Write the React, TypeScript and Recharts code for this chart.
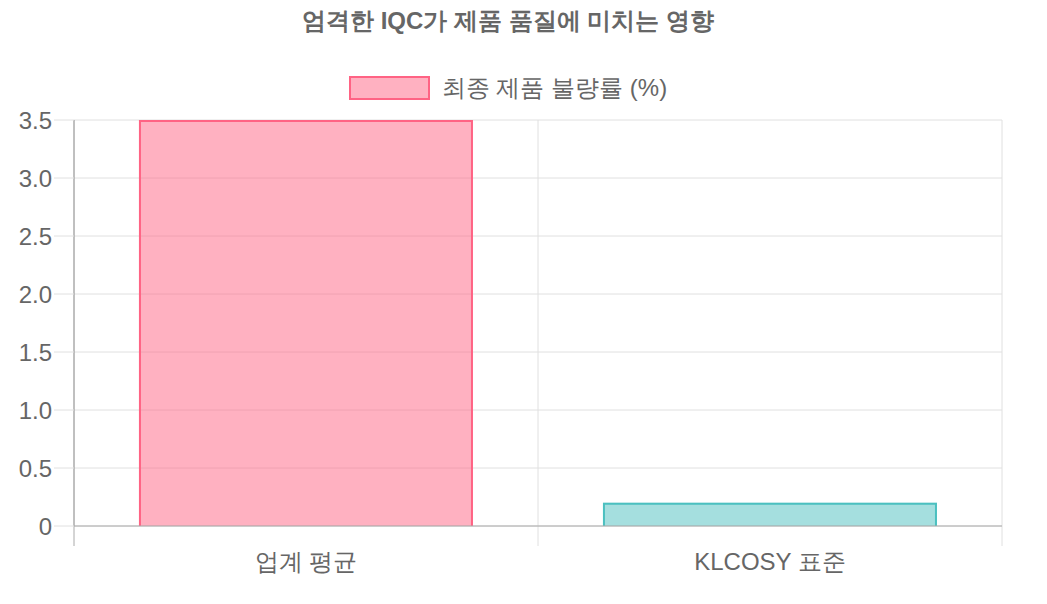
import React from 'react';
import * as Recharts from 'recharts';
import { BarChart, Bar, XAxis, YAxis, CartesianGrid, Cell } from 'recharts';

const title = '엄격한 IQC가 제품 품질에 미치는 영향';
const seriesName = '최종 제품 불량률 (%)';
const categories = ['업계 평균', 'KLCOSY 표준'];
const defectRates = [3.5, 0.2];
const yTicks = [0, 0.5, 1, 1.5, 2, 2.5, 3, 3.5];
const fills = ['rgba(255, 99, 132, 0.5)', 'rgba(75, 192, 192, 0.5)'];
const strokes = ['rgb(255, 99, 132)', 'rgb(75, 192, 192)'];

const data = categories.map((name, i) => ({ name, value: defectRates[i] }));

const W = 1047;
const H = 604;
const MARGIN = { top: 120, right: 45, bottom: 28, left: 0 };
const Y_AXIS_W = 74;
const X_AXIS_H = 50;
const FONT = '"Helvetica Neue", Helvetica, Arial, sans-serif';
const TEXT = '#666';
const GRID = '#e0e0e0';
const AXIS = '#aaaaaa';
const FS = 24;

const RC: any = Recharts;

function usePlot() {
  const fallback = {
    x: MARGIN.left + Y_AXIS_W,
    y: MARGIN.top,
    width: W - MARGIN.left - Y_AXIS_W - MARGIN.right,
    height: H - MARGIN.top - MARGIN.bottom - X_AXIS_H,
  };
  const p = RC.usePlotArea ? RC.usePlotArea() : null;
  return p && p.width ? p : fallback;
}

function BoundaryTicks() {
  const p = usePlot();
  const n = categories.length;
  const xs = Array.from({ length: n + 1 }, (_, i) => p.x + (p.width * i) / n);
  return (
    <g>
      {xs.map((x, i) => (
        <line
          key={i}
          x1={x}
          x2={x}
          y1={p.y}
          y2={p.y + p.height + 20}
          stroke={i === 0 ? AXIS : GRID}
          strokeWidth={1}
        />
      ))}
    </g>
  );
}

function BarShape(props: any) {
  const { x, y, width, height, index } = props;
  const bw = 2;
  const left = x + bw / 2;
  const right = x + width - bw / 2;
  const top = y + bw / 2;
  const bottom = y + height;
  return (
    <g>
      <rect x={x} y={y} width={width} height={height} fill={fills[index]} />
      <path
        d={`M${left},${bottom} L${left},${top} L${right},${top} L${right},${bottom}`}
        fill="none"
        stroke={strokes[index]}
        strokeWidth={bw}
      />
    </g>
  );
}

const fmt = (v: number) => (v === 0 ? '0' : v.toFixed(1));

export default function App() {
  return (
    <div style={{ position: 'absolute', left: 0, top: 0, width: W, height: H, fontFamily: FONT, background: '#fff' }}>
      <div
        style={{
          position: 'absolute',
          left: 8,
          top: 6,
          width: 1000,
          textAlign: 'center',
          fontWeight: 'bold',
          fontSize: FS,
          color: TEXT,
          lineHeight: '30px',
          whiteSpace: 'nowrap',
        }}
      >
        {title}
      </div>
      <div
        style={{
          position: 'absolute',
          left: 8,
          top: 74,
          width: 1000,
          display: 'flex',
          justifyContent: 'center',
          alignItems: 'center',
          height: 28,
        }}
      >
        <div
          style={{
            width: 77,
            height: 20,
            background: fills[0],
            border: `2px solid ${strokes[0]}`,
            marginRight: 12,
          }}
        />
        <span style={{ fontSize: FS, color: TEXT, lineHeight: '28px', whiteSpace: 'nowrap' }}>{seriesName}</span>
      </div>
      <div style={{ position: 'absolute', left: 0, top: 0 }}>
        <BarChart width={W} height={H} data={data} margin={MARGIN} barCategoryGap="14%">
          <CartesianGrid stroke={GRID} vertical={false} />
          <BoundaryTicks />
          <XAxis
            dataKey="name"
            height={X_AXIS_H}
            axisLine={{ stroke: AXIS }}
            tickLine={false}
            tickSize={20}
            tickMargin={7}
            tick={{ fill: TEXT, fontSize: FS, fontFamily: FONT }}
            interval={0}
          />
          <YAxis
            width={Y_AXIS_W}
            domain={[0, 3.5]}
            ticks={yTicks}
            interval={0}
            tickFormatter={fmt}
            axisLine={{ stroke: AXIS }}
            tickLine={{ stroke: GRID }}
            tickSize={20}
            tickMargin={2}
            tick={{ fill: TEXT, fontSize: FS, fontFamily: FONT }}
          />
          <Bar dataKey="value" isAnimationActive={false} shape={<BarShape />}>
            {data.map((d, i) => (
              <Cell key={d.name} fill={fills[i]} stroke={strokes[i]} />
            ))}
          </Bar>
        </BarChart>
      </div>
    </div>
  );
}
